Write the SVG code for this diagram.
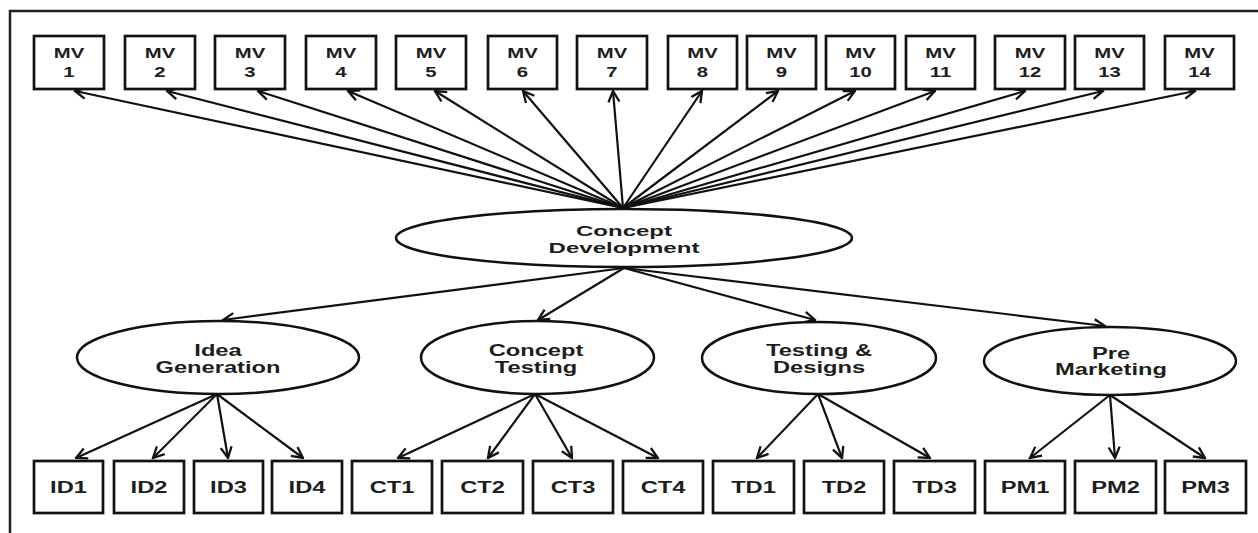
<svg xmlns="http://www.w3.org/2000/svg" width="1258" height="533" viewBox="0 0 1258 533">
  <defs>
    <marker id="arrow" viewBox="0 0 14 14" refX="12.5" refY="7" markerWidth="14" markerHeight="14" markerUnits="userSpaceOnUse" orient="auto">
      <path d="M1.5,1.5 L12.5,7 L1.5,12.5" fill="none" stroke="#111" stroke-width="2.3" stroke-linejoin="miter"/>
    </marker>
  </defs>
  <style>
    .frame { fill: none; stroke: #222; stroke-width: 2.5; }
    .box { fill: #fff; stroke: #111; stroke-width: 2.7; }
    .oval { fill: #fff; stroke: #111; stroke-width: 2.5; }
    .edge { stroke: #111; stroke-width: 2.2; fill: none; marker-end: url(#arrow); }
    text { font-family: "Liberation Sans", Arial, sans-serif; font-weight: bold; fill: #1e1e1e; text-anchor: middle; }
    .mv { font-size: 14.5px; }
    .lv2 { font-size: 15.5px; }
    .lv3 { font-size: 16px; }
  </style>
  <rect x="0" y="0" width="1258" height="533" fill="#fff"/>
  <!-- outer frame: top and left edges visible -->
  <rect class="frame" x="10" y="11" width="1270" height="540"/>

  <!-- connectors -->
  <g id="connectors">
    <line class="edge" x1="623" y1="208" x2="75" y2="91"/>
    <line class="edge" x1="623" y1="208" x2="167" y2="91"/>
    <line class="edge" x1="623" y1="208" x2="258" y2="91"/>
    <line class="edge" x1="623" y1="208" x2="348" y2="91"/>
    <line class="edge" x1="623" y1="208" x2="435" y2="91"/>
    <line class="edge" x1="623" y1="208" x2="523" y2="91"/>
    <line class="edge" x1="623" y1="208" x2="613" y2="91"/>
    <line class="edge" x1="623" y1="208" x2="702" y2="91"/>
    <line class="edge" x1="623" y1="208" x2="778" y2="91"/>
    <line class="edge" x1="623" y1="208" x2="855" y2="91"/>
    <line class="edge" x1="623" y1="208" x2="935" y2="91"/>
    <line class="edge" x1="623" y1="208" x2="1025" y2="91"/>
    <line class="edge" x1="623" y1="208" x2="1103" y2="91"/>
    <line class="edge" x1="623" y1="208" x2="1195" y2="91"/>

    <line class="edge" x1="624" y1="268" x2="223" y2="320"/>
    <line class="edge" x1="624" y1="268" x2="538" y2="320"/>
    <line class="edge" x1="624" y1="268" x2="815" y2="320"/>
    <line class="edge" x1="624" y1="268" x2="1105" y2="326"/>

    <line class="edge" x1="217" y1="394" x2="76" y2="458"/>
    <line class="edge" x1="217" y1="394" x2="153" y2="458"/>
    <line class="edge" x1="217" y1="394" x2="228" y2="458"/>
    <line class="edge" x1="217" y1="394" x2="303" y2="458"/>

    <line class="edge" x1="535" y1="394" x2="398" y2="458"/>
    <line class="edge" x1="535" y1="394" x2="488" y2="458"/>
    <line class="edge" x1="535" y1="394" x2="572" y2="458"/>
    <line class="edge" x1="535" y1="394" x2="658" y2="458"/>

    <line class="edge" x1="818" y1="394" x2="757" y2="458"/>
    <line class="edge" x1="818" y1="394" x2="842" y2="458"/>
    <line class="edge" x1="818" y1="394" x2="930" y2="458"/>

    <line class="edge" x1="1110" y1="395" x2="1030" y2="458"/>
    <line class="edge" x1="1110" y1="395" x2="1115" y2="458"/>
    <line class="edge" x1="1110" y1="395" x2="1205" y2="458"/>
  </g>

  <!-- top row: MV boxes -->
  <g id="mv1"><rect class="box" x="34" y="36" width="70" height="53"/><text class="mv" transform="translate(69,58) scale(1.4,1)">MV</text><text class="mv" transform="translate(69,77) scale(1.4,1)">1</text></g>
  <g id="mv2"><rect class="box" x="125" y="36" width="70" height="53"/><text class="mv" transform="translate(160,58) scale(1.4,1)">MV</text><text class="mv" transform="translate(160,77) scale(1.4,1)">2</text></g>
  <g id="mv3"><rect class="box" x="215" y="36" width="70" height="53"/><text class="mv" transform="translate(250,58) scale(1.4,1)">MV</text><text class="mv" transform="translate(250,77) scale(1.4,1)">3</text></g>
  <g id="mv4"><rect class="box" x="306" y="36" width="70" height="53"/><text class="mv" transform="translate(341,58) scale(1.4,1)">MV</text><text class="mv" transform="translate(341,77) scale(1.4,1)">4</text></g>
  <g id="mv5"><rect class="box" x="396" y="36" width="70" height="53"/><text class="mv" transform="translate(431,58) scale(1.4,1)">MV</text><text class="mv" transform="translate(431,77) scale(1.4,1)">5</text></g>
  <g id="mv6"><rect class="box" x="488" y="36" width="69" height="53"/><text class="mv" transform="translate(522.5,58) scale(1.4,1)">MV</text><text class="mv" transform="translate(522.5,77) scale(1.4,1)">6</text></g>
  <g id="mv7"><rect class="box" x="577" y="36" width="70" height="53"/><text class="mv" transform="translate(612,58) scale(1.4,1)">MV</text><text class="mv" transform="translate(612,77) scale(1.4,1)">7</text></g>
  <g id="mv8"><rect class="box" x="668" y="36" width="69" height="53"/><text class="mv" transform="translate(702.5,58) scale(1.4,1)">MV</text><text class="mv" transform="translate(702.5,77) scale(1.4,1)">8</text></g>
  <g id="mv9"><rect class="box" x="747" y="36" width="69" height="53"/><text class="mv" transform="translate(781.5,58) scale(1.4,1)">MV</text><text class="mv" transform="translate(781.5,77) scale(1.4,1)">9</text></g>
  <g id="mv10"><rect class="box" x="826" y="36" width="69" height="53"/><text class="mv" transform="translate(860.5,58) scale(1.4,1)">MV</text><text class="mv" transform="translate(860.5,77) scale(1.4,1)">10</text></g>
  <g id="mv11"><rect class="box" x="906" y="36" width="69" height="53"/><text class="mv" transform="translate(940.5,58) scale(1.4,1)">MV</text><text class="mv" transform="translate(940.5,77) scale(1.4,1)">11</text></g>
  <g id="mv12"><rect class="box" x="995" y="36" width="70" height="53"/><text class="mv" transform="translate(1030,58) scale(1.4,1)">MV</text><text class="mv" transform="translate(1030,77) scale(1.4,1)">12</text></g>
  <g id="mv13"><rect class="box" x="1075" y="36" width="69" height="53"/><text class="mv" transform="translate(1109.5,58) scale(1.4,1)">MV</text><text class="mv" transform="translate(1109.5,77) scale(1.4,1)">13</text></g>
  <g id="mv14"><rect class="box" x="1165" y="36" width="69" height="53"/><text class="mv" transform="translate(1199.5,58) scale(1.4,1)">MV</text><text class="mv" transform="translate(1199.5,77) scale(1.4,1)">14</text></g>

  <!-- central node -->
  <g id="concept-development">
    <ellipse class="oval" cx="624" cy="238" rx="228" ry="29"/>
    <text class="lv2" transform="translate(624,235.5) scale(1.55,1)">Concept</text>
    <text class="lv2" transform="translate(624,252.5) scale(1.55,1)">Development</text>
  </g>

  <!-- second level -->
  <g id="idea-generation">
    <ellipse class="oval" cx="218" cy="357.5" rx="141" ry="36.5"/>
    <text class="lv3" transform="translate(218,356) scale(1.48,1)">Idea</text>
    <text class="lv3" transform="translate(218,373) scale(1.48,1)">Generation</text>
  </g>
  <g id="concept-testing">
    <ellipse class="oval" cx="537.5" cy="357.5" rx="116.5" ry="36.5"/>
    <text class="lv3" transform="translate(536,356) scale(1.48,1)">Concept</text>
    <text class="lv3" transform="translate(536,373) scale(1.48,1)">Testing</text>
  </g>
  <g id="testing-designs">
    <ellipse class="oval" cx="819" cy="358" rx="117" ry="36"/>
    <text class="lv3" transform="translate(819,356) scale(1.48,1)">Testing &amp;</text>
    <text class="lv3" transform="translate(819,373) scale(1.48,1)">Designs</text>
  </g>
  <g id="pre-marketing">
    <ellipse class="oval" cx="1110" cy="361" rx="126" ry="34"/>
    <text class="lv3" transform="translate(1111,359) scale(1.48,1)">Pre</text>
    <text class="lv3" transform="translate(1111,375) scale(1.48,1)">Marketing</text>
  </g>

  <!-- bottom row -->
  <g id="id1"><rect class="box" x="34" y="461" width="69" height="52"/><text class="lv3" transform="translate(68.5,493) scale(1.48,1)">ID1</text></g>
  <g id="id2"><rect class="box" x="114" y="461" width="70" height="52"/><text class="lv3" transform="translate(149,493) scale(1.48,1)">ID2</text></g>
  <g id="id3"><rect class="box" x="194" y="461" width="69" height="52"/><text class="lv3" transform="translate(228.5,493) scale(1.48,1)">ID3</text></g>
  <g id="id4"><rect class="box" x="272" y="461" width="70" height="52"/><text class="lv3" transform="translate(307,493) scale(1.48,1)">ID4</text></g>
  <g id="ct1"><rect class="box" x="352" y="461" width="80" height="52"/><text class="lv3" transform="translate(392,493) scale(1.48,1)">CT1</text></g>
  <g id="ct2"><rect class="box" x="442" y="461" width="81" height="52"/><text class="lv3" transform="translate(482.5,493) scale(1.48,1)">CT2</text></g>
  <g id="ct3"><rect class="box" x="533" y="461" width="80" height="52"/><text class="lv3" transform="translate(573,493) scale(1.48,1)">CT3</text></g>
  <g id="ct4"><rect class="box" x="623" y="461" width="80" height="52"/><text class="lv3" transform="translate(663,493) scale(1.48,1)">CT4</text></g>
  <g id="td1"><rect class="box" x="713" y="461" width="81" height="52"/><text class="lv3" transform="translate(753.5,493) scale(1.48,1)">TD1</text></g>
  <g id="td2"><rect class="box" x="804" y="461" width="80" height="52"/><text class="lv3" transform="translate(844,493) scale(1.48,1)">TD2</text></g>
  <g id="td3"><rect class="box" x="894" y="461" width="81" height="52"/><text class="lv3" transform="translate(934.5,493) scale(1.48,1)">TD3</text></g>
  <g id="pm1"><rect class="box" x="985" y="461" width="80" height="52"/><text class="lv3" transform="translate(1025,493) scale(1.48,1)">PM1</text></g>
  <g id="pm2"><rect class="box" x="1075" y="461" width="81" height="52"/><text class="lv3" transform="translate(1115.5,493) scale(1.48,1)">PM2</text></g>
  <g id="pm3"><rect class="box" x="1165" y="461" width="81" height="52"/><text class="lv3" transform="translate(1205.5,493) scale(1.48,1)">PM3</text></g>
</svg>
